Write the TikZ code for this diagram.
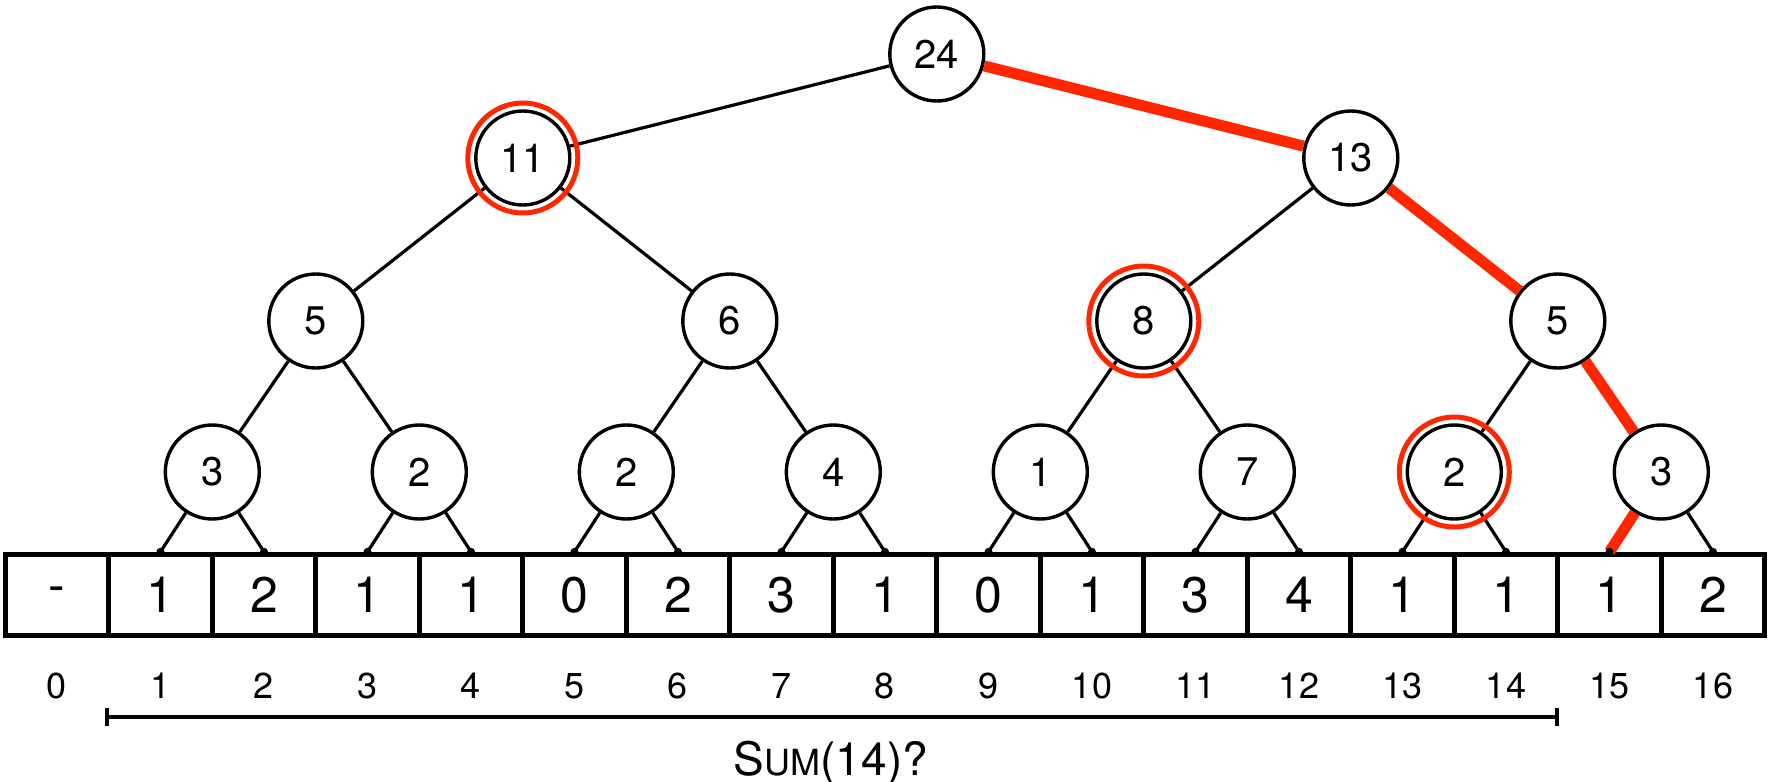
\documentclass[tikz,border=0pt]{standalone}
\usepackage{fontspec}
\setmainfont{TeX Gyre Heros}
\usetikzlibrary{arrows.meta}
\definecolor{hired}{RGB}{255,38,0}
\tikzset{
  val/.style={circle,draw,line width=1.7pt,fill=white,minimum size=47pt,inner sep=0pt,font=\fontsize{20}{24}\selectfont},
  cell/.style={draw,line width=2.7pt,minimum width=51.75pt,minimum height=40.5pt,inner sep=0pt,font=\fontsize{25}{30}\selectfont},
  idx/.style={font=\fontsize{18}{22}\selectfont},
  edge/.style={line width=1.6pt},
  hot/.style={hired,line width=5.5pt},
  ring/.style={hired,line width=2.5pt}
}
\begin{document}
\begin{tikzpicture}[x=0.5pt,y=-0.5pt]
\useasboundingbox (0,0) rectangle (1769,782);
% array and indices
\foreach \v [count=\i from 0] in {-,1,2,1,1,0,2,3,1,0,1,3,4,1,1,1,2}{
  \node[cell] (c\i) at (57+103.5*\i,595) {\v};
  \node[idx] (i\i) at (57+103.5*\i,686) {\i};
}
% tree
\node[val] (n1) at (936.8,54) {24};
\node[val] (n2) at (522.8,158) {11};
\node[val] (n3) at (1350.8,158) {13};
\node[val] (n4) at (315.8,321) {5};
\node[val] (n5) at (729.8,321) {6};
\node[val] (n6) at (1143.8,321) {8};
\node[val] (n7) at (1557.8,321) {5};
\foreach \v [count=\k from 8] in {3,2,2,4,1,7,2,3}
  \node[val] (n\k) at (5.3+207*\k-1449,472) {\v};
\draw[edge] (n1)--(n2) (n2)--(n4) (n2)--(n5) (n3)--(n6) (n4)--(n8) (n4)--(n9)
  (n5)--(n10) (n5)--(n11) (n6)--(n12) (n6)--(n13) (n7)--(n14);
\foreach \k [evaluate=\k as \a using int(2*\k-15), evaluate=\k as \b using int(2*\k-14)] in {8,...,14}
  \draw[edge] (n\k)--(c\a.north) (n\k)--(c\b.north);
\draw[edge] (n15)--(c16.north);
% path to 15
\draw[hot] (n1)--(n3) (n3)--(n7) (n7)--(n15) (n15)--(c15.north);
\foreach \i in {1,...,16}
  \fill (c\i.north) circle (2pt);
\foreach \n in {n2,n6,n14}
  \draw[ring] (\n) circle (27.5pt);
% query range
\coordinate (l) at (105,717);
\coordinate (r) at (1559,717);
\draw[line width=2pt,{Bar[width=9pt]}-{Bar[width=9pt]}] (l)--(r);
\node[anchor=base,font=\fontsize{23}{28}\selectfont] (q) at (831,775) {S{\fontsize{18}{22}\selectfont UM}(14)?};
\end{tikzpicture}
\end{document}
